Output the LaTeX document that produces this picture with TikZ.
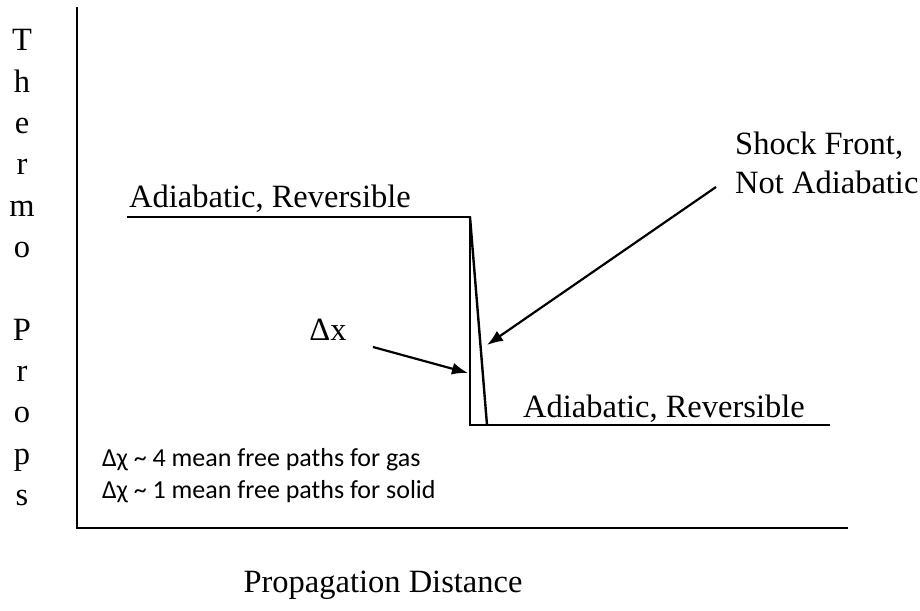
\documentclass[tikz,border=0pt]{standalone}
\usepackage{fontspec}
\setmainfont{Liberation Serif}
\newfontfamily\notefont{Carlito}
\usetikzlibrary{arrows.meta}

\begin{document}
\begin{tikzpicture}[x=1pt,y=-1pt,line width=2.4pt,
  lbl/.style={font=\fontsize{32.5}{39}\selectfont,inner sep=0pt},
  note/.style={font=\notefont\fontsize{26}{32}\selectfont,inner sep=0pt,align=left},
  pointer/.style={-{Latex[length=16pt,width=12pt]},line width=2.2pt}]
  \useasboundingbox (0,0) rectangle (920,610);
  % axes
  \coordinate (O) at (77,528);
  \coordinate (ytop) at (77,7);
  \coordinate (xend) at (848,528);
  \draw (ytop)--(O)--(xend);
  % profile across the shock
  \coordinate (A) at (127,217);
  \coordinate (B) at (470,217);
  \coordinate (C) at (470,425);
  \coordinate (D) at (487,425);
  \coordinate (E) at (830,425);
  \draw (A)--(B)--(C)--(E);
  \draw (B)--(D);
  % labels
  \node[lbl,anchor=base west] (up) at (128,207) {Adiabatic, Reversible};
  \node[lbl,anchor=base west] (down) at (522,417) {Adiabatic, Reversible};
  \node[lbl] (dx) at (328,330) {Δx};
  \node[lbl,align=left,anchor=west] (shock) at (734,163) {Shock Front,\\Not Adiabatic};
  \node[lbl,anchor=base] (xlab) at (383,592) {Propagation Distance};
  \node[note,anchor=west] (mfp) at (101,476)
    {Δχ \textasciitilde\ 4 mean free paths for gas\\Δχ \textasciitilde\ 1 mean free paths for solid};
  \foreach \ch [count=\i] in {T,h,e,r,m,o,{},P,r,o,p,s}
    \node[lbl,anchor=base] at (22,{51+41.3*(\i-1)}) {\ch};
  % pointers
  \coordinate (dxs) at (373,347);
  \coordinate (dxt) at (468,373);
  \coordinate (sfs) at (716,187);
  \coordinate (sft) at (487,345);
  \draw[pointer] (dxs)--(dxt);
  \draw[pointer] (sfs)--(sft);
\end{tikzpicture}
\end{document}
